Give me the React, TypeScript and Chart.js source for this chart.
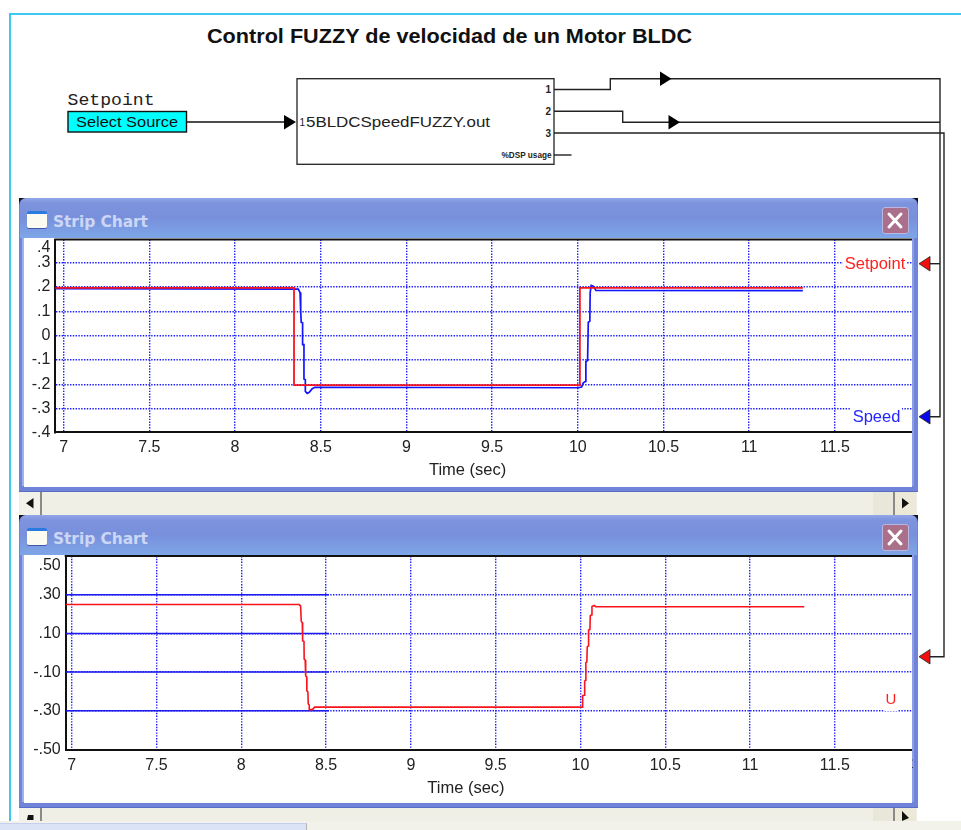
import React, { useEffect, useRef } from "react";
import { Chart, registerables } from "chart.js";

Chart.register(...registerables);

// ---------- data ----------
const timeTicks = [7, 7.5, 8, 8.5, 9, 9.5, 10, 10.5, 11, 11.5];

const topYTicks = [0.4, 0.3, 0.2, 0.1, 0, -0.1, -0.2, -0.3, -0.4];
const topYLabels = [".4", ".3", ".2", ".1", "0", "-.1", "-.2", "-.3", "-.4"];
const bottomYTicks = [0.5, 0.3, 0.1, -0.1, -0.3, -0.5];
const bottomYLabels = [".50", ".30", ".10", "-.10", "-.30", "-.50"];

const setpointT = [6.951, 8.344, 8.344, 10.012, 10.012, 11.313];
const setpointV = [0.196, 0.196, -0.203, -0.203, 0.196, 0.196];

const speedT = [
  6.951, 8.369, 8.379, 8.382, 8.384, 8.386, 8.394, 8.394, 8.402, 8.402, 8.41, 8.41, 8.421, 8.433, 8.45, 8.466,
  10.002, 10.022, 10.031, 10.045, 10.047, 10.057, 10.061, 10.07, 10.072, 10.078, 10.09, 10.106, 11.313,
];
const speedV = [
  0.193, 0.191, 0.177, 0.141, 0.099, 0.055, 0.053, -0.037, -0.037, -0.178, -0.181, -0.229, -0.237, -0.233, -0.218, -0.212,
  -0.214, -0.211, -0.195, -0.188, -0.106, -0.102, 0.055, 0.059, 0.176, 0.206, 0.203, 0.186, 0.185,
];

const controlT = [
  6.965, 8.342, 8.35, 8.354, 8.36, 8.362, 8.37, 8.371, 8.377, 8.38, 8.386, 8.387, 8.393, 8.395, 8.401, 8.401, 8.419, 8.433,
  10.011, 10.013, 10.022, 10.025, 10.03, 10.032, 10.038, 10.04, 10.046, 10.048, 10.056, 10.058, 10.066, 10.068, 10.081, 10.09, 11.32,
];
const controlV = [
  0.249, 0.249, 0.242, 0.162, 0.156, 0.062, 0.058, -0.033, -0.037, -0.12, -0.125, -0.197, -0.202, -0.263, -0.27, -0.294, -0.294, -0.281,
  -0.281, -0.222, -0.22, -0.146, -0.142, -0.051, -0.047, 0.03, 0.035, 0.117, 0.12, 0.191, 0.196, 0.239, 0.244, 0.238, 0.238,
];

const referenceLevels = [0.3, 0.1, -0.1, -0.3];
const referenceT = [6.965, 8.517];

const pts = (t: number[], v: number[]) => t.map((x, i) => ({ x, y: v[i] }));

const FONT = "'Liberation Sans', Arial, sans-serif";
const GRID = "#1c1cff";

const topEdge = {
  id: "topEdge",
  afterDraw(chart: any) {
    const { ctx, chartArea: a } = chart;
    ctx.save();
    ctx.fillStyle = "#111";
    ctx.fillRect(a.left - 1, a.top - 1, a.right - a.left + 1, 2);
    ctx.restore();
  },
};

function makeOptions(c: {
  xMin: number;
  xMax: number;
  yMin: number;
  yMax: number;
  yTicks: number[];
  yLabels: string[];
  yWidth: number;
  xHeight: number;
  padTop: number;
  hideY: number[];
  yPadding: number;
  titleSpaces: number;
}) {
  return {
    animation: false,
    responsive: false,
    layout: { padding: { top: c.padTop, left: 0, right: 0, bottom: 0 } },
    plugins: { legend: { display: false }, title: { display: false }, tooltip: { enabled: false } },
    scales: {
      x: {
        type: "linear",
        min: c.xMin,
        max: c.xMax,
        afterBuildTicks: (s: any) => {
          s.ticks = timeTicks.map((value) => ({ value }));
        },
        afterFit: (s: any) => {
          s.height = c.xHeight;
          s.paddingLeft = 0;
          s.paddingRight = 0;
        },
        border: { display: true, color: "#111", width: 2, dash: [1.4, 1.4] },
        grid: { drawTicks: false, color: GRID, lineWidth: 1.4 },
        ticks: {
          autoSkip: false,
          maxRotation: 0,
          padding: 6,
          color: "#222",
          font: { family: FONT, size: 16 },
          callback: (v: number) => String(v),
        },
        title: {
          display: true,
          text: "Time (sec)" + " ".repeat(c.titleSpaces),
          color: "#222",
          font: { family: FONT, size: 16.5 },
          padding: { top: 0, bottom: 6 },
        },
      },
      y: {
        type: "linear",
        min: c.yMin,
        max: c.yMax,
        afterBuildTicks: (s: any) => {
          s.ticks = c.yTicks.map((value) => ({ value }));
        },
        afterFit: (s: any) => {
          s.width = c.yWidth;
          s.paddingTop = 0;
          s.paddingBottom = 0;
        },
        border: { display: true, color: "#111", width: 2, dash: [1.4, 1.4] },
        grid: {
          drawTicks: false,
          lineWidth: 1.4,
          color: (ctx: any) => (c.hideY.includes(ctx.tick?.value) ? "rgba(0,0,0,0)" : GRID),
        },
        ticks: {
          autoSkip: false,
          padding: c.yPadding,
          color: "#222",
          font: { family: FONT, size: 16 },
          callback: (_v: number, i: number) => {
            const label = c.yLabels[i];
            return i === 0 ? ["", label] : label;
          },
        },
      },
    },
  } as any;
}

function useChart(build: () => any) {
  const ref = useRef<HTMLCanvasElement | null>(null);
  useEffect(() => {
    const chart = new Chart(ref.current as HTMLCanvasElement, build());
    return () => chart.destroy();
  }, []);
  return ref;
}

function topConfig() {
  return {
    type: "line",
    plugins: [topEdge],
    data: {
      datasets: [
        { label: "Speed", data: pts(speedT, speedV), borderColor: "#1414ff", borderWidth: 1.7, pointRadius: 0, tension: 0, order: 2 },
        { label: "Setpoint", data: pts(setpointT, setpointV), borderColor: "#f8141c", borderWidth: 1.8, pointRadius: 0, tension: 0, order: 1 },
      ],
    },
    options: makeOptions({
      xMin: 6.951,
      xMax: 11.95,
      yMin: -0.397,
      yMax: 0.395,
      yTicks: topYTicks,
      yLabels: topYLabels,
      yWidth: 31.3,
      xHeight: 53.7,
      padTop: 3.5,
      hideY: [0.4, -0.4],
      yPadding: 5,
      titleSpaces: 7,
    }),
  };
}

function bottomConfig() {
  return {
    type: "line",
    plugins: [topEdge],
    data: {
      datasets: [
        ...referenceLevels.map((lvl) => ({
          label: "ref " + lvl,
          data: referenceT.map((x) => ({ x, y: lvl })),
          borderColor: "#1c1cf0",
          borderWidth: 1.5,
          pointRadius: 0,
          tension: 0,
          order: 2,
        })),
        { label: "U", data: pts(controlT, controlV), borderColor: "#f8141c", borderWidth: 1.6, pointRadius: 0, tension: 0, order: 1 },
      ],
    },
    options: makeOptions({
      xMin: 6.965,
      xMax: 11.955,
      yMin: -0.5,
      yMax: 0.5,
      yTicks: bottomYTicks,
      yLabels: bottomYLabels,
      yWidth: 41.7,
      xHeight: 54.5,
      padTop: 1,
      hideY: [0.5, -0.5],
      yPadding: 5,
      titleSpaces: 10,
    }),
  };
}

const abs = (left: number, top: number, width: number, height: number, extra: React.CSSProperties = {}): React.CSSProperties => ({
  position: "absolute",
  left,
  top,
  width,
  height,
  ...extra,
});

function StripWindow({ top, height }: { top: number; height: number }) {
  return (
    <>
      <div style={abs(18.5, top, 7, 7, { background: "#111" })} />
      <div style={abs(910.5, top, 7, 7, { background: "#111" })} />
      <div
        style={abs(18.5, top, 899, height, {
          background: "#6f83d8",
          borderRadius: "7px 7px 0 0",
          boxShadow: "inset 0 -1px 0 #5a6cc8",
        })}
      />
      <div
        style={abs(19.5, top, 897, 40, {
          borderRadius: "7px 7px 0 0",
          background: "linear-gradient(#92a6ea 0px,#7d93dd 5px,#7890dc 20px,#7ea6e8 40px)",
        })}
      />
      <div style={abs(22, top + 40, 2, height - 46, { background: "#9fb0ee" })} />
      <div style={abs(912, top + 40, 2, height - 46, { background: "#8c9ee6" })} />
      <div style={abs(24, top + 40, 888, height - 45, { background: "#fff", borderTop: "0" })} />
      <div
        style={abs(26.5, top + 12.5, 20, 17.5, {
          background: "linear-gradient(#2a7be0 0,#2a7be0 2.5px,#fbfbf2 2.5px)",
          borderRadius: 2,
          boxShadow: "0 1px 0 #3f58a8",
        })}
      />
      <div
        style={abs(53, top + 13.7, 100, 20, {
          color: "#ccd6f5",
          font: "bold 15.5px 'DejaVu Sans', sans-serif",
          lineHeight: "20px",
          whiteSpace: "nowrap",
          letterSpacing: "-0.1px",
        })}
      >
        Strip Chart
      </div>
      <div
        style={abs(882, top + 9, 26.5, 27, {
          boxSizing: "border-box",
          background: "#aa6f8a",
          border: "1px solid #b9b7e0",
          borderRadius: 3,
        })}
      >
        <svg width="24" height="25" style={{ display: "block" }}>
          <path d="M6 6 L18 19 M18 6 L6 19" stroke="#fff" strokeWidth="3" strokeLinecap="round" />
        </svg>
      </div>
    </>
  );
}

function Scroller({ top, height }: { top: number; height: number }) {
  return (
    <>
      <div style={abs(19, top, 898, height, { background: "#f0efe6" })} />
      <div style={abs(20, top, 20, height, { background: "#f3f2ea" })} />
      <div style={abs(40, top, 1.5, height, { background: "#8a8a86" })} />
      <div style={abs(873, top, 20, height, { background: "#e9e7da" })} />
      <div style={abs(893, top, 1.5, height, { background: "#8a8a86" })} />
      <div style={abs(895, top, 21, height, { background: "#ece9d8" })} />
    </>
  );
}

const labelStyle = (color: string, size: number): React.CSSProperties => ({
  position: "absolute",
  background: "#fff",
  color,
  font: `${size}px ${FONT}`,
  lineHeight: "16px",
  whiteSpace: "nowrap",
  textAlign: "center",
});

export default function App() {
  const topRef = useChart(topConfig);
  const bottomRef = useChart(bottomConfig);

  return (
    <div
      style={{
        position: "fixed",
        left: 0,
        top: 0,
        width: 961,
        height: 830,
        overflow: "hidden",
        background: "#fff",
        filter: "blur(0.45px)",
      }}
    >
      {/* frame of the page */}
      <div style={abs(8.5, 13, 2, 810, { background: "#3cc8f0" })} />
      <div style={abs(8.5, 13, 953, 2, { background: "#3cc8f0" })} />

      {/* block diagram */}
      <svg width="961" height="830" style={{ position: "absolute", left: 0, top: 0 }}>
        <text x="207" y="43" fontFamily={FONT} fontWeight="bold" fontSize="20" textLength="485" lengthAdjust="spacingAndGlyphs" fill="#111">
          Control FUZZY de velocidad de un Motor BLDC
        </text>
        <text x="67.5" y="104.5" fontFamily="'Liberation Mono', monospace" fontSize="16" textLength="87" lengthAdjust="spacingAndGlyphs" fill="#222">
          Setpoint
        </text>
        <rect x="68" y="111.5" width="118.5" height="20.5" fill="#00ffff" stroke="#111" strokeWidth="1.4" />
        <text x="76" y="127" fontFamily={FONT} fontSize="15.5" textLength="102" lengthAdjust="spacingAndGlyphs" fill="#111">
          Select Source
        </text>
        <path d="M187 122 H286" stroke="#111" strokeWidth="1.3" fill="none" />
        <path d="M284 115 L296 122 L284 129.5 Z" fill="#000" />
        <rect x="297" y="78.7" width="257" height="85.6" fill="#fff" stroke="#222" strokeWidth="1.3" />
        <text x="299.5" y="126" fontFamily={FONT} fontSize="10" fill="#222">1</text>
        <text x="306" y="127" fontFamily={FONT} fontSize="15.5" textLength="184" lengthAdjust="spacingAndGlyphs" fill="#222">
          5BLDCSpeedFUZZY.out
        </text>
        <text x="551" y="93" textAnchor="end" fontFamily={FONT} fontSize="10" fontWeight="bold" fill="#222">1</text>
        <text x="551" y="115" textAnchor="end" fontFamily={FONT} fontSize="10" fontWeight="bold" fill="#222">2</text>
        <text x="551" y="136.5" textAnchor="end" fontFamily={FONT} fontSize="10" fontWeight="bold" fill="#222">3</text>
        <text x="551.5" y="158" textAnchor="end" fontFamily={FONT} fontSize="8.2" fontWeight="bold" fill="#222">%DSP usage</text>

        <g stroke="#222" strokeWidth="1.4" fill="none">
          <path d="M554 89.5 H610.3 V78.7 H940 V416.7 H928" />
          <path d="M554 111.3 H622.7 V122.2 H940" />
          <path d="M554 133 H944 V656.7 H928" />
          <path d="M940 263.7 H928" />
          <path d="M554 155 H571.5" />
        </g>
        <path d="M660 71.5 L671.5 78.7 L660 86 Z" fill="#000" />
        <path d="M668.5 115 L680 122.2 L668.5 129.5 Z" fill="#000" />
      </svg>

      {/* top window */}
      <StripWindow top={198} height={293.7} />
      <canvas ref={topRef} width={888} height={250} style={abs(24, 236, 888, 250, { display: "block" })} />
      <div style={{ ...labelStyle("#ff2020", 16.5), left: 843, top: 255, width: 64 }}>Setpoint</div>
      <div style={{ ...labelStyle("#2424ff", 16.5), left: 851, top: 407.5, width: 51 }}>Speed</div>
      <Scroller top={491.7} height={23.3} />
      <svg width="961" height="830" style={{ position: "absolute", left: 0, top: 0, pointerEvents: "none" }}>
        <path d="M33.5 498 L33.5 508.5 L26 503.2 Z" fill="#111" />
        <path d="M902 498 L902 508.5 L909 503.2 Z" fill="#111" />
      </svg>

      {/* bottom window */}
      <StripWindow top={515} height={293} />
      <canvas ref={bottomRef} width={888} height={249} style={abs(24, 554.5, 888, 249, { display: "block" })} />
      <div style={{ ...labelStyle("#ff2020", 15), left: 884, top: 691, width: 14, height: 20 }}>U</div>
      <div style={abs(911, 755, 2, 15, { overflow: "hidden", color: "#222", font: `15px ${FONT}`, lineHeight: "15px" })}>1</div>
      <Scroller top={808} height={14} />
      <svg width="961" height="830" style={{ position: "absolute", left: 0, top: 0, pointerEvents: "none" }}>
        <path d="M28 815 L33.5 815 L33.5 820 L27 820 Z" fill="#111" />
        <path d="M902 811 L909 818 L902 821 Z" fill="#111" />
      </svg>

      {/* red and blue input ports */}
      <svg width="961" height="830" style={{ position: "absolute", left: 0, top: 0, pointerEvents: "none" }}>
        <path d="M930 256.5 L919 263.7 L930 271 Z" fill="#f01010" stroke="#222" strokeWidth="0.8" />
        <path d="M930 409.5 L919 416.7 L930 424 Z" fill="#0808e8" stroke="#222" strokeWidth="0.8" />
        <path d="M930 649.5 L919 656.7 L930 664 Z" fill="#f01010" stroke="#222" strokeWidth="0.8" />
      </svg>

      {/* task strip */}
      <div style={abs(0, 821, 961, 9, { background: "#f2f1ea" })} />
      <div style={abs(0, 823, 306, 7, { background: "#dbe3f6", borderRight: "1.5px solid #b5b5ad", borderTop: "1px solid #c5d0ee" })} />
    </div>
  );
}
